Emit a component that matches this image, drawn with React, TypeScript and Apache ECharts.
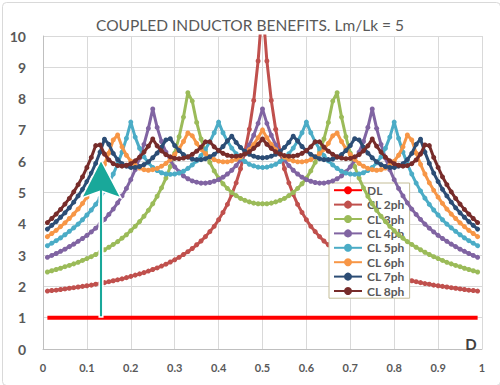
import React, { useEffect, useRef } from "react";
import * as echarts from "echarts";

const dValues = [
  0.01, 0.02, 0.03, 0.04, 0.05, 0.06, 0.07, 0.08, 0.09, 0.1,
  0.11, 0.12, 0.13, 0.14, 0.15, 0.16, 0.17, 0.18, 0.19, 0.2,
  0.21, 0.22, 0.23, 0.24, 0.25, 0.26, 0.27, 0.28, 0.29, 0.3,
  0.31, 0.32, 0.33, 0.34, 0.35, 0.36, 0.37, 0.38, 0.39, 0.4,
  0.41, 0.42, 0.43, 0.44, 0.45, 0.46, 0.47, 0.48, 0.49, 0.5,
  0.51, 0.52, 0.53, 0.54, 0.55, 0.56, 0.57, 0.58, 0.59, 0.6,
  0.61, 0.62, 0.63, 0.64, 0.65, 0.66, 0.67, 0.68, 0.69, 0.7,
  0.71, 0.72, 0.73, 0.74, 0.75, 0.76, 0.77, 0.78, 0.79, 0.8,
  0.81, 0.82, 0.83, 0.84, 0.85, 0.86, 0.87, 0.88, 0.89, 0.9,
  0.91, 0.92, 0.93, 0.94, 0.95, 0.96, 0.97, 0.98, 0.99,
];

const dlD = [0.01, 0.99];
const dlValues = [1, 1];

const cl2ph = [
  1.85, 1.87, 1.88, 1.90, 1.92, 1.94, 1.96, 1.98, 2.00, 2.02,
  2.04, 2.07, 2.09, 2.12, 2.15, 2.18, 2.21, 2.24, 2.28, 2.32,
  2.36, 2.40, 2.44, 2.49, 2.54, 2.59, 2.65, 2.71, 2.78, 2.85,
  2.93, 3.02, 3.11, 3.21, 3.33, 3.45, 3.59, 3.75, 3.92, 4.13,
  4.36, 4.62, 4.94, 5.31, 5.76, 6.32, 7.02, 7.94, 9.20, 11.00,
  9.20, 7.94, 7.02, 6.32, 5.76, 5.31, 4.94, 4.62, 4.36, 4.13,
  3.92, 3.75, 3.59, 3.45, 3.33, 3.21, 3.11, 3.02, 2.93, 2.85,
  2.78, 2.71, 2.65, 2.59, 2.54, 2.49, 2.44, 2.40, 2.36, 2.32,
  2.28, 2.24, 2.21, 2.18, 2.15, 2.12, 2.09, 2.07, 2.04, 2.02,
  2.00, 1.98, 1.96, 1.94, 1.92, 1.90, 1.88, 1.87, 1.85,
];

const cl3ph = [
  2.46, 2.50, 2.54, 2.58, 2.63, 2.67, 2.72, 2.77, 2.83, 2.89,
  2.95, 3.02, 3.09, 3.17, 3.25, 3.34, 3.43, 3.54, 3.65, 3.78,
  3.92, 4.07, 4.24, 4.43, 4.64, 4.88, 5.15, 5.46, 5.83, 6.26,
  6.78, 7.41, 8.19, 7.92, 7.24, 6.71, 6.30, 5.96, 5.69, 5.46,
  5.28, 5.13, 5.00, 4.90, 4.81, 4.75, 4.70, 4.66, 4.64, 4.64,
  4.64, 4.66, 4.70, 4.75, 4.81, 4.90, 5.00, 5.13, 5.28,
  5.46, 5.69, 5.96, 6.30, 6.71, 7.24, 7.92, 8.19, 7.41, 6.78,
  6.26, 5.83, 5.46, 5.15, 4.88, 4.64, 4.43, 4.24, 4.07, 3.92,
  3.78, 3.65, 3.54, 3.43, 3.34, 3.25, 3.17, 3.09, 3.02, 2.95,
  2.89, 2.83, 2.77, 2.72, 2.67, 2.63, 2.58, 2.54, 2.50, 2.46,
];

const cl4ph = [
  2.93, 2.99, 3.05, 3.12, 3.19, 3.27, 3.35, 3.44, 3.53, 3.63,
  3.74, 3.86, 3.99, 4.14, 4.30, 4.47, 4.67, 4.89, 5.13, 5.41,
  5.73, 6.10, 6.54, 7.05, 7.67, 7.08, 6.63, 6.29, 6.03, 5.82,
  5.66, 5.53, 5.44, 5.37, 5.33, 5.30, 5.30, 5.32, 5.36, 5.41,
  5.49, 5.59, 5.71, 5.86, 6.04, 6.26, 6.52, 6.83, 7.21, 7.67,
  7.21, 6.83, 6.52, 6.26, 6.04, 5.86, 5.71, 5.59, 5.49,
  5.41, 5.36, 5.32, 5.30, 5.30, 5.33, 5.37, 5.44, 5.53, 5.66,
  5.82, 6.03, 6.29, 6.63, 7.08, 7.67, 7.05, 6.54, 6.10, 5.73,
  5.41, 5.13, 4.89, 4.67, 4.47, 4.30, 4.14, 3.99, 3.86, 3.74,
  3.63, 3.53, 3.44, 3.35, 3.27, 3.19, 3.12, 3.05, 2.99, 2.93,
];

const cl5ph = [
  3.30, 3.38, 3.46, 3.55, 3.65, 3.76, 3.87, 3.99, 4.13, 4.28,
  4.44, 4.62, 4.82, 5.05, 5.30, 5.59, 5.91, 6.29, 6.73, 7.25,
  6.77, 6.41, 6.14, 5.95, 5.80, 5.70, 5.63, 5.59, 5.58, 5.59,
  5.62, 5.68, 5.77, 5.88, 6.01, 6.18, 6.38, 6.62, 6.91, 7.25,
  6.91, 6.64, 6.42, 6.24, 6.10, 5.99, 5.90, 5.85, 5.81, 5.80,
  5.81, 5.85, 5.90, 5.99, 6.10, 6.24, 6.42, 6.64, 6.91,
  7.25, 6.91, 6.62, 6.38, 6.18, 6.01, 5.88, 5.77, 5.68, 5.62,
  5.59, 5.58, 5.59, 5.63, 5.70, 5.80, 5.95, 6.14, 6.41, 6.77,
  7.25, 6.73, 6.29, 5.91, 5.59, 5.30, 5.05, 4.82, 4.62, 4.44,
  4.28, 4.13, 3.99, 3.87, 3.76, 3.65, 3.55, 3.46, 3.38, 3.30,
];

const cl6ph = [
  3.59, 3.69, 3.79, 3.91, 4.03, 4.17, 4.31, 4.47, 4.65, 4.85,
  5.07, 5.31, 5.59, 5.90, 6.26, 6.68, 6.84, 6.46, 6.19, 6.00,
  5.87, 5.78, 5.73, 5.71, 5.73, 5.77, 5.84, 5.93, 6.06, 6.21,
  6.40, 6.63, 6.90, 6.81, 6.57, 6.38, 6.24, 6.13, 6.05, 6.00,
  5.98, 5.98, 6.01, 6.06, 6.13, 6.24, 6.37, 6.54, 6.75, 7.00,
  6.75, 6.54, 6.37, 6.24, 6.13, 6.06, 6.01, 5.98, 5.98,
  6.00, 6.05, 6.13, 6.24, 6.38, 6.57, 6.81, 6.90, 6.63, 6.40,
  6.21, 6.06, 5.93, 5.84, 5.77, 5.73, 5.71, 5.73, 5.78, 5.87,
  6.00, 6.19, 6.46, 6.84, 6.68, 6.26, 5.90, 5.59, 5.31, 5.07,
  4.85, 4.65, 4.47, 4.31, 4.17, 4.03, 3.91, 3.79, 3.69, 3.59,
];

const cl7ph = [
  3.83, 3.95, 4.07, 4.21, 4.35, 4.51, 4.69, 4.89, 5.10, 5.35,
  5.62, 5.93, 6.29, 6.70, 6.54, 6.25, 6.05, 5.92, 5.84, 5.80,
  5.80, 5.83, 5.89, 5.98, 6.11, 6.26, 6.45, 6.68, 6.72, 6.50,
  6.34, 6.21, 6.13, 6.07, 6.05, 6.05, 6.08, 6.14, 6.22, 6.33,
  6.47, 6.65, 6.80, 6.60, 6.44, 6.31, 6.22, 6.16, 6.12, 6.11,
  6.12, 6.16, 6.22, 6.31, 6.44, 6.60, 6.80, 6.65, 6.47,
  6.33, 6.22, 6.14, 6.08, 6.05, 6.05, 6.07, 6.13, 6.21, 6.34,
  6.50, 6.72, 6.68, 6.45, 6.26, 6.11, 5.98, 5.89, 5.83, 5.80,
  5.80, 5.84, 5.92, 6.05, 6.25, 6.54, 6.70, 6.29, 5.93, 5.62,
  5.35, 5.10, 4.89, 4.69, 4.51, 4.35, 4.21, 4.07, 3.95, 3.83,
];

const cl8ph = [
  4.04, 4.17, 4.31, 4.46, 4.63, 4.81, 5.02, 5.25, 5.50, 5.80,
  6.12, 6.50, 6.52, 6.23, 6.04, 5.92, 5.86, 5.84, 5.87, 5.92,
  6.01, 6.13, 6.29, 6.48, 6.71, 6.49, 6.33, 6.21, 6.14, 6.09,
  6.08, 6.10, 6.14, 6.22, 6.32, 6.45, 6.62, 6.62, 6.46, 6.34,
  6.25, 6.19, 6.16, 6.16, 6.18, 6.23, 6.30, 6.41, 6.54, 6.71,
  6.54, 6.41, 6.30, 6.23, 6.18, 6.16, 6.16, 6.19, 6.25,
  6.34, 6.46, 6.62, 6.62, 6.45, 6.32, 6.22, 6.14, 6.10, 6.08,
  6.09, 6.14, 6.21, 6.33, 6.49, 6.71, 6.48, 6.29, 6.13, 6.01,
  5.92, 5.87, 5.84, 5.86, 5.92, 6.04, 6.23, 6.52, 6.50, 6.12,
  5.80, 5.50, 5.25, 5.02, 4.81, 4.63, 4.46, 4.31, 4.17, 4.04,
];

const seriesNames = ["DL", "CL 2ph", "CL 3ph", "CL 4ph", "CL 5ph", "CL 6ph", "CL 7ph", "CL 8ph"];
const seriesColors = ["#FF0000", "#C0504D", "#9BBB59", "#8064A2", "#4BACC6", "#F79646", "#2C4D75", "#772C2A"];
const clValues = [cl2ph, cl3ph, cl4ph, cl5ph, cl6ph, cl7ph, cl8ph];

const titleText = "COUPLED INDUCTOR BENEFITS. Lm/Lk = 5";
const xAxisName = "D";

const FONT = "Lato, 'Open Sans', sans-serif";

export default function App() {
  const ref = useRef<HTMLDivElement>(null);

  useEffect(() => {
    if (!ref.current) return;
    const chart = echarts.init(ref.current, undefined, { renderer: "svg" });

    const clSeries = clValues.map((vals, k) => ({
      type: "line",
      name: seriesNames[k + 1],
      data: dValues.map((d, i) => [d, vals[i]]),
      symbol: "circle",
      symbolSize: 5,
      showSymbol: true,
      clip: true,
      lineStyle: { width: 3, color: seriesColors[k + 1] },
      itemStyle: { color: seriesColors[k + 1] },
      z: 3 + k,
    }));

    const option: any = {
      animation: false,
      backgroundColor: "#ffffff",
      title: {
        text: titleText,
        left: "center",
        top: 12,
        textStyle: { fontFamily: FONT, fontSize: 15.5, fontWeight: "normal", color: "#595959" },
      },
      grid: { left: 43, right: 18, top: 36, bottom: 36 },
      xAxis: {
        type: "value",
        min: 0,
        max: 1,
        interval: 0.1,
        axisLine: { show: true, lineStyle: { color: "#bfbfbf", width: 1 } },
        axisTick: { show: false },
        splitLine: { show: true, lineStyle: { color: "#d9d9d9", width: 1 } },
        axisLabel: { color: "#595959", fontFamily: FONT, fontWeight: "bold", fontSize: 11, margin: 13 },
      },
      yAxis: {
        type: "value",
        min: 0,
        max: 10,
        interval: 1,
        axisLine: { show: true, lineStyle: { color: "#bfbfbf", width: 1 } },
        axisTick: { show: false },
        splitLine: { show: true, lineStyle: { color: "#d9d9d9", width: 1 } },
        axisLabel: { color: "#595959", fontFamily: FONT, fontWeight: "bold", fontSize: 14, margin: 17 },
      },
      legend: {
        orient: "vertical",
        left: 329,
        top: 183,
        padding: [0, 5, 0, 4],
        itemGap: 0,
        itemWidth: 28,
        itemHeight: 10,
        backgroundColor: "#ffffff",
        borderColor: "#c4bd97",
        borderWidth: 1,
        borderRadius: 0,
        data: seriesNames,
        textStyle: {
          fontFamily: FONT,
          fontSize: 12,
          fontWeight: "bold",
          color: "#595959",
          lineHeight: 14.4,
        },
      },
      graphic: [
        {
          type: "rect",
          left: 0,
          top: 0,
          z: -10,
          shape: { x: 0, y: 0, width: 498, height: 383, r: 4 },
          style: { fill: "none", stroke: "#d9d9d9", lineWidth: 1 },
          silent: true,
        },
        {
          type: "polygon",
          z: 100,
          shape: {
            points: [
              [101, 160],
              [121, 198],
              [102.8, 191.5],
              [102.8, 317],
              [99.2, 317],
              [99.2, 191.5],
              [81.5, 198],
            ],
          },
          style: { fill: "#19A89A", stroke: "#ffffff", lineWidth: 1.5 },
          silent: true,
        },
        {
          type: "text",
          z: 100,
          style: {
            x: 471,
            y: 344,
            text: xAxisName,
            align: "center",
            verticalAlign: "middle",
            font: "bold 15px Lato, sans-serif",
            fill: "#404040",
          },
          silent: true,
        },
      ],
      series: [
        {
          type: "line",
          name: seriesNames[0],
          data: dlD.map((d, i) => [d, dlValues[i]]),
          symbol: "none",
          lineStyle: { width: 4, color: seriesColors[0] },
          itemStyle: { color: seriesColors[0] },
          z: 2,
        },
        ...clSeries,
      ],
    };

    chart.setOption(option);
    return () => chart.dispose();
  }, []);

  return (
    <div
      ref={ref}
      style={{ position: "absolute", left: 0, top: 0, width: 500, height: 385, background: "#fff" }}
    />
  );
}
